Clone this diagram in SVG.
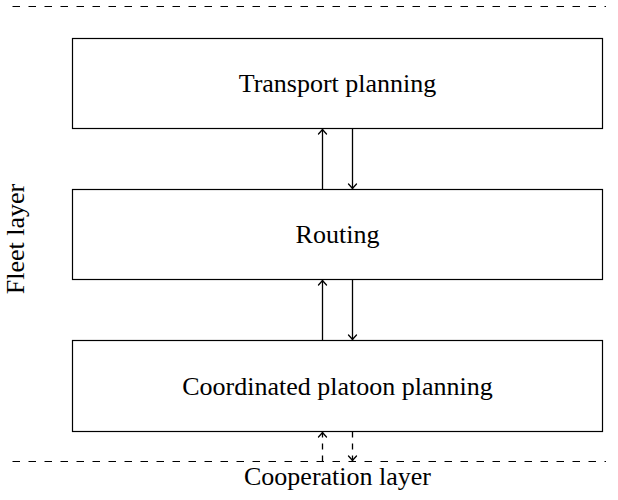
<svg xmlns="http://www.w3.org/2000/svg" width="618" height="500" viewBox="0 0 618 500">
<style>
.box{fill:#fff;stroke:#000;stroke-width:1.2}
.lbl{font-family:"Liberation Serif","Times New Roman",serif;font-size:26px;fill:#000;text-anchor:middle}
.sep{stroke:#000;stroke-width:1;stroke-dasharray:7.5 8.5;fill:none}
.con{stroke:#000;stroke-width:1.3;fill:none;marker-end:url(#ah)}
.dash{stroke-dasharray:6 6}
</style>
<defs>
<marker id="ah" markerUnits="userSpaceOnUse" markerWidth="12" markerHeight="12" viewBox="-6 -6 12 12" refX="0" refY="0" orient="auto">
<path d="M-4.5,-4 Q-1.3,-1 0,0 Q-1.3,1 -4.5,4" fill="none" stroke="#000" stroke-width="1.3" stroke-linecap="round"/>
</marker>
</defs>
<g id="separators">
<line class="sep" x1="12.5" y1="6.5" x2="606" y2="6.5"/>
<line class="sep" x1="12.5" y1="461.5" x2="606" y2="461.5"/>
</g>
<g id="transport">
<rect class="box" x="72.5" y="38.5" width="530" height="90"/>
<text class="lbl" x="337.5" y="92">Transport planning</text>
</g>
<g id="routing">
<rect class="box" x="72.5" y="189.5" width="530" height="90"/>
<text class="lbl" x="337.5" y="243">Routing</text>
</g>
<g id="platoon">
<rect class="box" x="72.5" y="340.5" width="530" height="91"/>
<text class="lbl" x="337.5" y="394.5">Coordinated platoon planning</text>
</g>
<g id="fleet-layer">
<text class="lbl" transform="translate(24,239) rotate(-90)">Fleet layer</text>
</g>
<g id="cooperation-layer">
<text class="lbl" x="337.5" y="485">Cooperation layer</text>
</g>
<g id="connectors">
<line class="con" x1="322.5" y1="189" x2="322.5" y2="129.5"/>
<line class="con" x1="352.5" y1="129" x2="352.5" y2="188.5"/>
<line class="con" x1="322.5" y1="340" x2="322.5" y2="280.5"/>
<line class="con" x1="352.5" y1="280" x2="352.5" y2="339.5"/>
<line class="con dash" x1="322.5" y1="461.5" x2="322.5" y2="432.5"/>
<line class="con dash" x1="352.5" y1="431.5" x2="352.5" y2="460.5"/>
</g>
</svg>
